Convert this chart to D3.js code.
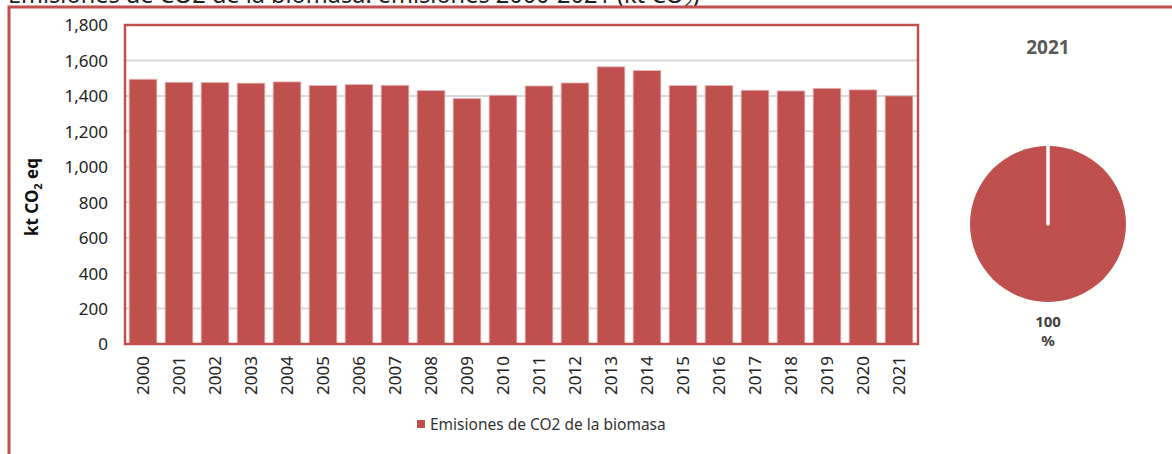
<!DOCTYPE html>
<html lang="es">
<head>
    <meta charset="utf-8">
    <script src="https://d3js.org/d3.v7.min.js"></script>
    <style>
        html, body {
            margin: 0;
            padding: 0;
            background: white;
            overflow: hidden;
        }

        svg {
            display: block;
            font-family: 'Noto Sans', sans-serif;
        }

        .grid line {
            stroke: #d9d9d9;
            stroke-width: 2;
        }

        .tick text {
            fill: #222;
        }
    </style>
</head>
<body>
<svg width="1172" height="454"></svg>
<script>
    // data
    var years = ["2000", "2001", "2002", "2003", "2004", "2005", "2006", "2007", "2008", "2009", "2010",
        "2011", "2012", "2013", "2014", "2015", "2016", "2017", "2018", "2019", "2020", "2021"];
    var emisiones = [1494, 1477, 1476, 1472, 1479, 1459, 1464, 1460, 1430, 1385, 1404,
        1456, 1473, 1564, 1543, 1459, 1459, 1432, 1428, 1443, 1434, 1400];
    var yTicks = [0, 200, 400, 600, 800, 1000, 1200, 1400, 1600, 1800];
    var pieYear = "2021";
    var pieShares = [100];
    var seriesName = "Emisiones de CO2 de la biomasa";

    var red = "#c0504d";
    var font = "'Noto Sans', sans-serif";

    var svg = d3.select("svg");

    // title, cut off at the top (as in the original)
    var title = svg.append("text")
        .attr("x", 8)
        .attr("y", 3)
        .attr("font-size", 23.5)
        .attr("fill", "#222")
        .text("Emisiones de CO2 de la biomasa: emisiones 2000-2021 (kt CO");
    title.append("tspan").attr("font-size", 15).attr("dy", 4).text("2");
    title.append("tspan").attr("dy", -4).text(")");

    // outer frame
    svg.append("rect")
        .attr("x", 9)
        .attr("y", 7)
        .attr("width", 1200)
        .attr("height", 500)
        .attr("fill", "none")
        .attr("stroke", red)
        .attr("stroke-width", 3);

    var plot = {left: 125, top: 25, right: 918, bottom: 344};

    var x = d3.scaleBand()
        .domain(years)
        .range([plot.left, 917])
        .paddingInner(0.23)
        .paddingOuter(0.115);

    var y = d3.scaleLinear()
        .domain([0, 1800])
        .range([plot.bottom, plot.top]);

    // gridlines
    svg.append("g")
        .attr("class", "grid")
        .selectAll("line")
        .data(yTicks.filter(function (d) { return d > 0 && d < 1800; }))
        .enter().append("line")
        .attr("x1", plot.left)
        .attr("x2", plot.right)
        .attr("y1", function (d) { return y(d); })
        .attr("y2", function (d) { return y(d); });

    // bars
    svg.append("g")
        .selectAll("rect")
        .data(emisiones)
        .enter().append("rect")
        .attr("x", function (d, i) { return x(years[i]); })
        .attr("y", function (d) { return y(d); })
        .attr("width", x.bandwidth())
        .attr("height", function (d) { return y(0) - y(d); })
        .attr("fill", red)
        .attr("stroke", "#e6b9b8")
        .attr("stroke-width", 0.8);

    // plot frame
    svg.append("rect")
        .attr("x", plot.left)
        .attr("y", plot.top)
        .attr("width", plot.right - plot.left)
        .attr("height", plot.bottom - plot.top)
        .attr("fill", "none")
        .attr("stroke", red)
        .attr("stroke-width", 2.5);

    // y axis
    var yAxis = svg.append("g")
        .attr("transform", "translate(" + (plot.left - 17) + ",0)")
        .call(d3.axisLeft(y).tickValues(yTicks).tickSize(0).tickPadding(0).tickFormat(d3.format(",")));
    yAxis.select(".domain").remove();
    yAxis.selectAll("text")
        .attr("font-size", 17)
        .attr("font-family", font)
        .attr("dy", "0.35em");

    // x axis
    var xAxis = svg.append("g")
        .attr("transform", "translate(0," + plot.bottom + ")")
        .call(d3.axisBottom(x).tickSize(0).tickPadding(0));
    xAxis.select(".domain").remove();
    xAxis.selectAll("text")
        .attr("font-size", 17)
        .attr("font-family", font)
        .attr("transform", "rotate(-90)")
        .attr("text-anchor", "end")
        .attr("x", -12)
        .attr("y", 0)
        .attr("dy", "0.35em");

    // y axis title
    var yTitle = svg.append("text")
        .attr("transform", "translate(38,197) rotate(-90)")
        .attr("text-anchor", "middle")
        .attr("font-size", 17)
        .attr("font-weight", "bold")
        .attr("fill", "#111")
        .text("kt CO");
    yTitle.append("tspan").attr("font-size", 11).attr("dy", 4).text("2");
    yTitle.append("tspan").attr("dy", -4).text(" eq");

    // legend
    var legend = svg.append("g").attr("transform", "translate(417,420)");
    legend.append("rect")
        .attr("width", 8)
        .attr("height", 8)
        .attr("fill", red);
    legend.append("text")
        .attr("x", 13)
        .attr("y", 10)
        .attr("font-size", 15.5)
        .attr("fill", "#333")
        .text(seriesName);

    // pie
    var cx = 1048, cy = 224, radius = 78;
    svg.append("text")
        .attr("x", cx)
        .attr("y", 54)
        .attr("text-anchor", "middle")
        .attr("font-size", 19)
        .attr("font-weight", "bold")
        .attr("fill", "#595959")
        .text(pieYear);

    var pieData = d3.pie().sort(null)(pieShares);
    var arc = d3.arc().innerRadius(0).outerRadius(radius);
    var pieG = svg.append("g").attr("transform", "translate(" + cx + "," + cy + ")");
    pieG.selectAll("path")
        .data(pieData)
        .enter().append("path")
        .attr("d", arc)
        .attr("fill", red);
    // white slice border at the start angle
    pieG.selectAll("line")
        .data(pieData)
        .enter().append("line")
        .attr("x1", 0)
        .attr("y1", 0)
        .attr("x2", function (d) { return Math.sin(d.startAngle) * (radius + 1); })
        .attr("y2", function (d) { return -Math.cos(d.startAngle) * (radius + 1); })
        .attr("stroke", "white")
        .attr("stroke-width", 3.5)
        .attr("stroke-linecap", "round");

    // label under the pie, on two lines
    svg.append("text")
        .attr("x", cx)
        .attr("y", 327)
        .attr("text-anchor", "middle")
        .attr("font-size", 15)
        .attr("font-weight", "bold")
        .attr("fill", "#404040")
        .text(pieShares[0]);
    svg.append("text")
        .attr("x", cx)
        .attr("y", 346)
        .attr("text-anchor", "middle")
        .attr("font-size", 15)
        .attr("font-weight", "bold")
        .attr("fill", "#404040")
        .text("%");
</script>
</body>
</html>
